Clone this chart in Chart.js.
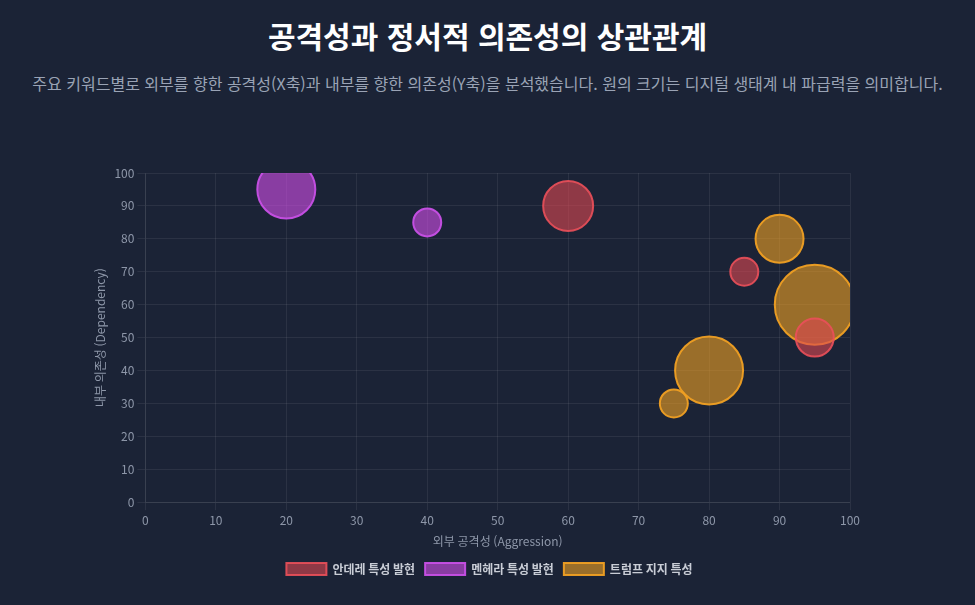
<!DOCTYPE html>
<html lang="ko">
<head>
<meta charset="utf-8">
<script src="https://cdn.jsdelivr.net/npm/chart.js@4.4.0/dist/chart.umd.min.js"></script>
<style>
    body {
        margin: 0;
        background: #1b2336;
        font-family: "Noto Sans CJK KR", "Noto Sans", sans-serif;
        width: 975px;
        height: 605px;
        overflow: hidden;
    }
    h1 {
        position: absolute;
        top: 13px;
        left: 0;
        width: 975px;
        margin: 0;
        text-align: center;
        color: #ffffff;
        font-size: 30px;
        font-weight: 700;
    }
    p.sub {
        position: absolute;
        top: 71px;
        left: 0;
        width: 975px;
        margin: 0;
        text-align: center;
        color: #9aa3b5;
        font-size: 16px;
    }
    #chart-box {
        position: absolute;
        left: 0;
        top: 130px;
        width: 975px;
        height: 475px;
    }
</style>
</head>
<body>
<h1>공격성과 정서적 의존성의 상관관계</h1>
<p class="sub">주요 키워드별로 외부를 향한 공격성(X축)과 내부를 향한 의존성(Y축)을 분석했습니다. 원의 크기는 디지털 생태계 내 파급력을 의미합니다.</p>
<div id="chart-box"><canvas id="chart"></canvas></div>

<script>
// 안데레 특성 발현
let yandere_points = [
    {x: 60, y: 90, r: 25},
    {x: 85, y: 70, r: 14},
    {x: 95, y: 50, r: 19}
];
// 멘헤라 특성 발현
let menhera_points = [
    {x: 20, y: 95, r: 29},
    {x: 40, y: 85, r: 14}
];
// 트럼프 지지 특성
let trump_points = [
    {x: 90, y: 80, r: 24},
    {x: 95, y: 60, r: 40},
    {x: 80, y: 40, r: 34},
    {x: 75, y: 30, r: 14}
];

let series_names = ["안데레 특성 발현", "멘헤라 특성 발현", "트럼프 지지 특성"];
let x_title = "외부 공격성 (Aggression)";
let y_title = "내부 의존성 (Dependency)";

let tick_color = "#8e97a9";
let grid_color = "rgba(255, 255, 255, 0.07)";

Chart.defaults.font.family = '"Noto Sans CJK KR", "Noto Sans", sans-serif';

// 큰 원이 차트 영역 밖으로 나가지 않게 자르기
const clip_to_area = {
    id: 'clip_to_area',
    beforeDatasetsDraw(chart) {
        let a = chart.chartArea;
        chart.ctx.save();
        chart.ctx.beginPath();
        chart.ctx.rect(a.left, a.top, a.right - a.left, a.bottom - a.top);
        chart.ctx.clip();
    },
    afterDatasetsDraw(chart) {
        chart.ctx.restore();
    }
};

new Chart(document.getElementById("chart"), {
    type: 'bubble',
    data: {
        datasets: [{
            label: series_names[0],
            data: yandere_points,
            backgroundColor: 'rgba(222, 72, 82, 0.6)',
            borderColor: 'rgba(235, 80, 90, 0.9)',
            borderWidth: 2,
            clip: 0
        }, {
            label: series_names[1],
            data: menhera_points,
            backgroundColor: 'rgba(212, 78, 235, 0.6)',
            borderColor: 'rgba(200, 80, 230, 0.95)',
            borderWidth: 2,
            clip: 0
        }, {
            label: series_names[2],
            data: trump_points,
            backgroundColor: 'rgba(240, 160, 35, 0.6)',
            borderColor: 'rgba(240, 160, 35, 0.95)',
            borderWidth: 2,
            clip: 0
        }]
    },
    plugins: [clip_to_area],
    options: {
        responsive: true,
        maintainAspectRatio: false,
        animation: false,
        layout: {
            padding: {left: 89, right: 85, top: 43, bottom: 20}
        },
        plugins: {
            legend: {
                position: 'bottom',
                labels: {
                    color: '#c9cdd6',
                    boxWidth: 40,
                    boxHeight: 12,
                    padding: 10,
                    font: {size: 12, weight: 'bold'}
                }
            },
            tooltip: {enabled: false}
        },
        scales: {
            x: {
                min: 0,
                max: 100,
                ticks: {stepSize: 10, color: tick_color, font: {size: 12}},
                grid: {color: grid_color},
                border: {color: grid_color},
                title: {display: true, text: x_title, color: tick_color, font: {size: 12}}
            },
            y: {
                min: 0,
                max: 100,
                ticks: {stepSize: 10, color: tick_color, font: {size: 12}},
                grid: {color: grid_color},
                border: {color: grid_color},
                title: {display: true, text: y_title, color: tick_color, font: {size: 12}}
            },
            // 오른쪽 여백용 빈 축
            y_space: {
                position: 'right',
                min: 0,
                max: 100,
                grid: {display: false},
                border: {display: false},
                ticks: {display: false},
                afterFit(scale) {
                    scale.width = 40;
                }
            }
        }
    }
});
</script>
</body>
</html>
